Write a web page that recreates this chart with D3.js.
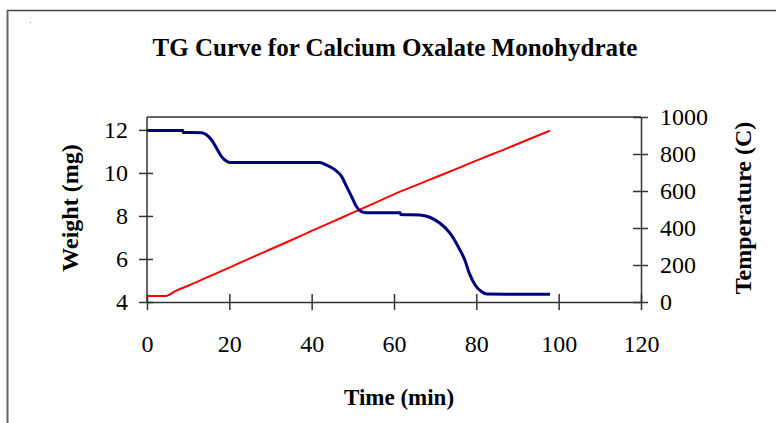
<!DOCTYPE html>
<html>
<head>
<meta charset="utf-8">
<script src="https://cdn.jsdelivr.net/npm/d3@7"></script>
<style>
  html, body { margin: 0; padding: 0; background: #fff; }
  svg { display: block; }
  text { font-family: "Liberation Serif", "Times New Roman", serif; fill: #000; }
</style>
</head>
<body>
<div id="chart"></div>
<script>
// ---- data ----
const titleText = "TG Curve for Calcium Oxalate Monohydrate";
const xLabel = "Time (min)";
const yLeftLabel = "Weight (mg)";
const yRightLabel = "Temperature (C)";

const xTicks = [0, 20, 40, 60, 80, 100, 120];
const yLeftTicks = [4, 6, 8, 10, 12];
const yRightTicks = [0, 200, 400, 600, 800, 1000];

// weight curve (mg) vs time (min)
const weightTime = [0, 8.7, 8.8, 13.3, 14.5, 15.7, 16.9, 18.1, 19.5, 20.6, 42, 43.6, 45.7, 47.3, 48.5, 49.7, 50.9, 52.1, 53.4, 61.5, 61.6, 66.3, 68.7, 71.2, 73.6, 75.6, 77.2, 78.3, 79.7, 81.3, 82.5, 97.9];
const weightValues = [11.97, 11.97, 11.88, 11.87, 11.76, 11.53, 11.15, 10.76, 10.53, 10.48, 10.48, 10.37, 10.14, 9.83, 9.36, 8.90, 8.43, 8.20, 8.15, 8.15, 8.07, 8.05, 7.94, 7.66, 7.20, 6.57, 5.95, 5.33, 4.79, 4.48, 4.37, 4.36];

// temperature (C) vs time (min)
const tempTime = [0, 4.4, 7, 10, 15, 20, 25, 30, 35, 40, 45, 50, 55, 60, 65, 70, 75, 80, 85, 90, 95, 97.9];
const tempValues = [32, 32, 60, 88, 137, 186, 236, 285, 334, 384, 433, 483, 532, 582, 628, 673, 718, 764, 809, 854, 900, 926];

// ---- layout ----
const W = 776, H = 423;
const L = 147, R = 641, T = 117, B = 302;

const svg = d3.select("#chart").append("svg").attr("width", W).attr("height", H);

// outer chart border (top + left visible)
svg.append("line").attr("x1", 7).attr("x2", W).attr("y1", 10.5).attr("y2", 10.5)
  .attr("stroke", "#444").attr("stroke-width", 1.5);
svg.append("line").attr("x1", 7.5).attr("x2", 7.5).attr("y1", 10).attr("y2", H)
  .attr("stroke", "#666").attr("stroke-width", 2);
svg.append("rect").attr("x", 30).attr("y", 22).attr("width", 1).attr("height", 1).attr("fill", "#999");

const x = d3.scaleLinear().domain([0, 120]).range([L, R]);
const yL = d3.scaleLinear().domain([4, 12.6]).range([B, T]);
const yR = d3.scaleLinear().domain([0, 1000]).range([B, T]);

// plot area frame (top line)
svg.append("line").attr("x1", L).attr("x2", R).attr("y1", T).attr("y2", T)
  .attr("stroke", "#333").attr("stroke-width", 1.5);

// axes
function styleAxis(g) {
  g.select(".domain").attr("stroke", "#333").attr("stroke-width", 1.5);
  g.selectAll(".tick line").attr("stroke", "#333").attr("stroke-width", 1.5);
  g.selectAll(".tick text").attr("font-size", 24).attr("fill", "#000");
}
const fmt = d3.format("d");

const gx = svg.append("g").attr("transform", `translate(0,${B})`)
  .call(d3.axisBottom(x).tickValues(xTicks).tickFormat(fmt).tickSize(8).tickSizeOuter(0).tickPadding(26));
styleAxis(gx);
gx.selectAll(".tick line").attr("y1", -8).attr("y2", 8);
gx.selectAll(".tick text").attr("dy", "0.71em").attr("y", 33);

const gl = svg.append("g").attr("transform", `translate(${L},0)`)
  .call(d3.axisLeft(yL).tickValues(yLeftTicks).tickFormat(fmt).tickSize(8).tickSizeOuter(0).tickPadding(11));
styleAxis(gl);
gl.selectAll(".tick line").attr("x1", -8).attr("x2", 6);
gl.selectAll(".tick text").attr("x", -19);
gl.select(".domain").attr("d", `M0,${B}V${T}`);

const gr = svg.append("g").attr("transform", `translate(${R},0)`)
  .call(d3.axisRight(yR).tickValues(yRightTicks).tickFormat(fmt).tickSize(8).tickSizeOuter(0).tickPadding(11));
styleAxis(gr);
gr.selectAll(".tick line").attr("x1", -8).attr("x2", 7);
gr.selectAll(".tick text").attr("x", 19);

// lines
const tempLine = d3.line().x((d, i) => x(tempTime[i])).y(d => yR(d)).curve(d3.curveMonotoneX);
svg.append("path").datum(tempValues).attr("d", tempLine)
  .attr("fill", "none").attr("stroke", "#ff0000").attr("stroke-width", 2);

const weightLine = d3.line().x((d, i) => x(weightTime[i])).y(d => yL(d)).curve(d3.curveMonotoneX);
svg.append("path").datum(weightValues).attr("d", weightLine)
  .attr("fill", "none").attr("stroke", "#000080").attr("stroke-width", 3);

// titles
svg.append("text").attr("x", 395).attr("y", 56).attr("text-anchor", "middle")
  .attr("font-size", 25).attr("font-weight", "bold").text(titleText);
svg.append("text").attr("x", 399).attr("y", 405).attr("text-anchor", "middle")
  .attr("font-size", 23).attr("font-weight", "bold").text(xLabel);
svg.append("text").attr("transform", "translate(78,208) rotate(-90)").attr("text-anchor", "middle")
  .attr("font-size", 24).attr("font-weight", "bold").text(yLeftLabel);
svg.append("text").attr("transform", "translate(751,208) rotate(-90)").attr("text-anchor", "middle")
  .attr("font-size", 24).attr("font-weight", "bold").text(yRightLabel);
</script>
</body>
</html>
